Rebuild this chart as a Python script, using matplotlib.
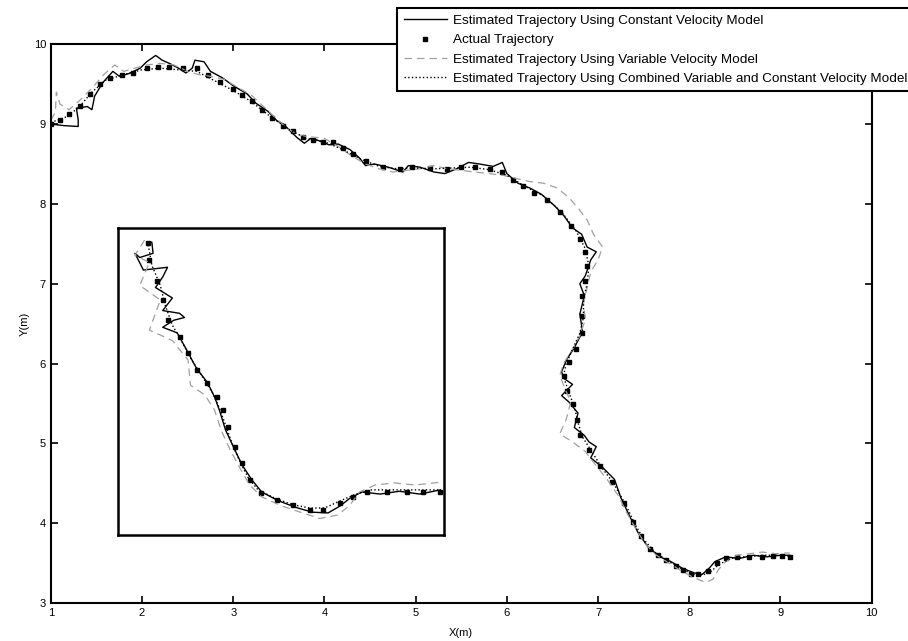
import matplotlib
matplotlib.use('Agg')
import matplotlib.pyplot as plt

plt.rcParams['font.family'] = ['Liberation Sans', 'DejaVu Sans']

# actual trajectory (m)
actual_x = [1.00, 1.10, 1.20, 1.32, 1.43, 1.54, 1.65, 1.78, 1.90, 2.05, 2.18, 2.30, 2.45, 2.60, 2.72,
            2.85, 3.00, 3.10, 3.21, 3.32, 3.43, 3.55, 3.65, 3.76, 3.87, 3.98, 4.09, 4.20, 4.31, 4.46,
            4.64, 4.83, 4.96, 5.16, 5.34, 5.50, 5.65, 5.81, 5.95, 6.07, 6.18, 6.30, 6.44, 6.58, 6.70,
            6.80, 6.86, 6.88, 6.86, 6.82, 6.82, 6.82, 6.76, 6.68, 6.63, 6.66, 6.72, 6.77, 6.80, 6.90,
            7.02, 7.15, 7.28, 7.38, 7.47, 7.57, 7.66, 7.75, 7.85, 7.93, 8.02, 8.10, 8.20, 8.30, 8.40,
            8.52, 8.66, 8.80, 8.92, 9.02, 9.10]
actual_y = [9.00, 9.05, 9.12, 9.23, 9.38, 9.50, 9.58, 9.62, 9.64, 9.70, 9.72, 9.72, 9.70, 9.70, 9.62,
            9.53, 9.44, 9.37, 9.29, 9.18, 9.08, 8.98, 8.91, 8.84, 8.80, 8.78, 8.77, 8.70, 8.63, 8.54,
            8.46, 8.44, 8.46, 8.45, 8.44, 8.46, 8.46, 8.44, 8.40, 8.30, 8.22, 8.14, 8.05, 7.90, 7.72,
            7.56, 7.40, 7.22, 7.04, 6.85, 6.60, 6.38, 6.18, 6.02, 5.85, 5.66, 5.50, 5.30, 5.10, 4.92,
            4.72, 4.52, 4.25, 4.02, 3.84, 3.68, 3.60, 3.54, 3.47, 3.42, 3.37, 3.36, 3.40, 3.50, 3.56,
            3.58, 3.58, 3.58, 3.59, 3.59, 3.58]

# constant velocity model estimate
const_x = [1.00, 1.15, 1.30, 1.30, 1.28, 1.40, 1.45, 1.48, 1.57, 1.68, 1.75, 1.85, 1.98, 2.05, 2.15,
           2.22, 2.30, 2.40, 2.48, 2.55, 2.58, 2.68, 2.75, 2.88, 3.00, 3.15, 3.25, 3.38, 3.48, 3.55,
           3.62, 3.70, 3.78, 3.85, 3.92, 4.05, 4.15, 4.28, 4.38, 4.45, 4.55, 4.70, 4.86, 4.92, 5.05,
           5.20, 5.32, 5.45, 5.58, 5.70, 5.85, 5.95, 6.00, 6.12, 6.25, 6.38, 6.52, 6.62, 6.72, 6.82,
           6.88, 6.98, 6.92, 6.86, 6.80, 6.85, 6.80, 6.83, 6.74, 6.66, 6.60, 6.62, 6.72, 6.60, 6.68,
           6.78, 6.74, 6.85, 6.90, 6.98, 6.92, 7.05, 7.18, 7.25, 7.35, 7.44, 7.55, 7.68, 7.80, 7.92,
           8.05, 8.14, 8.22, 8.28, 8.40, 8.55, 8.70, 8.85, 9.00, 9.10]
const_y = [9.00, 8.98, 8.97, 9.05, 9.20, 9.22, 9.18, 9.35, 9.52, 9.66, 9.60, 9.63, 9.70, 9.78, 9.86,
           9.80, 9.76, 9.70, 9.64, 9.70, 9.80, 9.78, 9.66, 9.58, 9.48, 9.38, 9.26, 9.16, 9.04, 9.00,
           8.92, 8.83, 8.76, 8.82, 8.80, 8.74, 8.75, 8.68, 8.58, 8.48, 8.50, 8.46, 8.40, 8.48, 8.46,
           8.40, 8.38, 8.44, 8.52, 8.50, 8.47, 8.52, 8.38, 8.26, 8.20, 8.12, 7.98, 7.86, 7.70, 7.62,
           7.46, 7.40, 7.30, 7.10, 7.00, 6.85, 6.62, 6.40, 6.20, 6.06, 5.90, 5.82, 5.74, 5.60, 5.52,
           5.38, 5.20, 5.10, 5.02, 4.96, 4.82, 4.70, 4.55, 4.32, 4.08, 3.88, 3.70, 3.58, 3.52, 3.44,
           3.38, 3.36, 3.44, 3.52, 3.58, 3.56, 3.60, 3.58, 3.60, 3.60]

# variable velocity model estimate
var_x = [1.00, 1.05, 1.06, 1.10, 1.20, 1.32, 1.45, 1.58, 1.70, 1.80, 1.92, 2.05, 2.20, 2.35, 2.50,
         2.62, 2.74, 2.90, 3.05, 3.20, 3.35, 3.48, 3.60, 3.72, 3.85, 4.00, 4.15, 4.30, 4.45, 4.60,
         4.75, 4.90, 5.05, 5.20, 5.35, 5.50, 5.65, 5.80, 5.95, 6.10, 6.25, 6.40, 6.55, 6.68, 6.78,
         6.88, 6.95, 7.05, 7.00, 6.92, 6.88, 6.84, 6.86, 6.80, 6.72, 6.62, 6.58, 6.64, 6.70, 6.65,
         6.58, 6.72, 6.86, 6.98, 7.10, 7.22, 7.32, 7.42, 7.52, 7.64, 7.78, 7.92, 8.05, 8.18, 8.26,
         8.32, 8.40, 8.52, 8.66, 8.80, 8.95, 9.10]
var_y = [9.05, 9.15, 9.40, 9.25, 9.18, 9.30, 9.45, 9.62, 9.74, 9.66, 9.70, 9.74, 9.76, 9.74, 9.66,
         9.62, 9.60, 9.56, 9.46, 9.36, 9.20, 9.06, 8.94, 8.86, 8.84, 8.82, 8.72, 8.60, 8.50, 8.44,
         8.40, 8.42, 8.44, 8.48, 8.44, 8.42, 8.40, 8.38, 8.36, 8.32, 8.28, 8.26, 8.20, 8.08, 7.95,
         7.80, 7.62, 7.46, 7.30, 7.15, 6.95, 6.75, 6.55, 6.35, 6.18, 6.00, 5.85, 5.68, 5.52, 5.30,
         5.12, 5.02, 4.90, 4.72, 4.55, 4.35, 4.12, 3.92, 3.74, 3.60, 3.50, 3.40, 3.32, 3.26, 3.30,
         3.42, 3.52, 3.60, 3.62, 3.64, 3.62, 3.63]

# combined variable and constant velocity model estimate
comb_x = [1.00, 1.15, 1.30, 1.45, 1.60, 1.80, 2.00, 2.20, 2.40, 2.60, 2.80, 3.00, 3.20, 3.40, 3.60,
          3.80, 4.00, 4.20, 4.40, 4.60, 4.80, 5.00, 5.20, 5.40, 5.60, 5.80, 6.00, 6.20, 6.40, 6.60,
          6.76, 6.86, 6.90, 6.88, 6.84, 6.84, 6.80, 6.72, 6.65, 6.62, 6.68, 6.74, 6.78, 6.83, 6.93,
          7.04, 7.17, 7.30, 7.40, 7.50, 7.62, 7.78, 7.95, 8.10, 8.22, 8.32, 8.45, 8.60, 8.80, 9.00,
          9.10]
comb_y = [9.02, 9.08, 9.20, 9.40, 9.55, 9.62, 9.68, 9.70, 9.68, 9.66, 9.54, 9.42, 9.28, 9.10, 8.94,
          8.82, 8.78, 8.68, 8.56, 8.47, 8.44, 8.45, 8.44, 8.45, 8.46, 8.43, 8.36, 8.22, 8.10, 7.90,
          7.66, 7.44, 7.22, 7.00, 6.80, 6.58, 6.38, 6.18, 6.00, 5.84, 5.64, 5.46, 5.26, 5.08, 4.90,
          4.70, 4.50, 4.24, 4.00, 3.80, 3.64, 3.52, 3.41, 3.34, 3.38, 3.48, 3.56, 3.58, 3.60, 3.60,
          3.59]

# inset (detail of the descent)
in_actual_x = [6.75, 6.76, 6.82, 6.87, 6.91, 7.01, 7.08, 7.15, 7.24, 7.32, 7.37, 7.41, 7.47, 7.53,
               7.59, 7.68, 7.82, 7.95, 8.09, 8.20, 8.34, 8.45, 8.56, 8.73, 8.89, 9.03, 9.17]
in_actual_y = [7.39, 7.14, 6.85, 6.57, 6.28, 6.04, 5.81, 5.57, 5.38, 5.18, 4.99, 4.75, 4.46, 4.23,
               3.99, 3.80, 3.70, 3.63, 3.56, 3.56, 3.66, 3.75, 3.82, 3.82, 3.82, 3.82, 3.82]
in_const_x = [6.74, 6.78, 6.79, 6.68, 6.64, 6.71, 6.91, 6.87, 6.81, 6.95, 6.87, 7.01, 7.05, 6.96,
              6.87, 6.99, 7.07, 7.15, 7.24, 7.30, 7.34, 7.39, 7.46, 7.53, 7.61, 7.69, 7.82, 7.97,
              8.11, 8.24, 8.34, 8.42, 8.52, 8.67, 8.83, 9.00, 9.17]
in_const_y = [7.40, 7.40, 7.24, 7.18, 7.24, 7.00, 7.04, 6.90, 6.75, 6.60, 6.42, 6.38, 6.32, 6.28,
              6.18, 6.10, 5.85, 5.59, 5.39, 5.18, 4.99, 4.71, 4.45, 4.20, 3.99, 3.82, 3.70, 3.60,
              3.53, 3.52, 3.62, 3.73, 3.82, 3.79, 3.83, 3.79, 3.85]
in_var_x = [6.72, 6.64, 6.76, 6.68, 6.85, 6.76, 6.95, 7.08, 7.10, 7.22, 7.30, 7.36, 7.43, 7.51,
            7.59, 7.69, 7.84, 8.01, 8.17, 8.32, 8.42, 8.50, 8.63, 8.79, 8.96, 9.17]
in_var_y = [7.43, 7.21, 7.11, 6.78, 6.57, 6.14, 5.99, 5.71, 5.35, 5.21, 4.99, 4.68, 4.42, 4.16,
            3.92, 3.75, 3.63, 3.53, 3.44, 3.49, 3.63, 3.82, 3.92, 3.95, 3.92, 3.96]
in_comb_x = [6.75, 6.78, 6.85, 6.89, 6.95, 7.03, 7.11, 7.20, 7.28, 7.34, 7.39, 7.45, 7.51, 7.58,
             7.66, 7.80, 7.94, 8.09, 8.21, 8.35, 8.47, 8.60, 8.77, 8.93, 9.17]
in_comb_y = [7.36, 7.07, 6.78, 6.50, 6.21, 5.97, 5.71, 5.47, 5.25, 5.02, 4.78, 4.49, 4.25, 4.02,
             3.85, 3.73, 3.64, 3.59, 3.59, 3.70, 3.79, 3.85, 3.85, 3.85, 3.85]

labels = ['Estimated Trajectory Using Constant Velocity Model',
          'Actual Trajectory',
          'Estimated Trajectory Using Variable Velocity Model',
          'Estimated Trajectory Using Combined Variable and Constant Velocity Model']
xticks = [1, 2, 3, 4, 5, 6, 7, 8, 9, 10]
yticks = [3, 4, 5, 6, 7, 8, 9, 10]


def draw(ax, cx, cy, ax_, ay_, vx, vy, bx, by):
    ax.plot(cx, cy, color='black', linewidth=1.0, linestyle='-', label=labels[0])
    ax.plot(ax_, ay_, color='black', linestyle='none', marker='s', markersize=3.5, label=labels[1])
    ax.plot(vx, vy, color='#a0a0a0', linewidth=0.9, linestyle=(0, (6, 4)), label=labels[2])
    ax.plot(bx, by, color='black', linewidth=1.0, linestyle=':', label=labels[3])


fig = plt.figure(figsize=(9.08, 6.41), dpi=100)
ax = fig.add_axes([0.056, 0.059, 0.904, 0.872])
draw(ax, const_x, const_y, actual_x, actual_y, var_x, var_y, comb_x, comb_y)
ax.set_xlim(1, 10)
ax.set_ylim(3, 10)
ax.set_xticks(xticks)
ax.set_yticks(yticks)
ax.tick_params(direction='in', length=5, width=1.2, labelsize=8, top=True, right=True)
for s in ax.spines.values():
    s.set_linewidth(1.5)
ax.set_xlabel('X(m)', fontsize=8, labelpad=7)
ax.set_ylabel('Y(m)', fontsize=8, labelpad=3)

leg = fig.legend(loc='upper left', bbox_to_anchor=(0.437, 0.9875), borderaxespad=0,
                 fontsize=9.7, handlelength=3.2, handletextpad=0.5, labelspacing=0.5,
                 borderpad=0.5, fancybox=False, framealpha=1, edgecolor='black')
leg.get_frame().set_linewidth(1.5)

ins = fig.add_axes([0.130, 0.165, 0.359, 0.479])
draw(ins, in_const_x, in_const_y, in_actual_x, in_actual_y, in_var_x, in_var_y, in_comb_x, in_comb_y)
ins.set_xlim(6.5, 9.2)
ins.set_ylim(3.2, 7.6)
ins.set_xticks([])
ins.set_yticks([])
for s in ins.spines.values():
    s.set_linewidth(1.8)

fig.savefig('out.png', dpi=100)
